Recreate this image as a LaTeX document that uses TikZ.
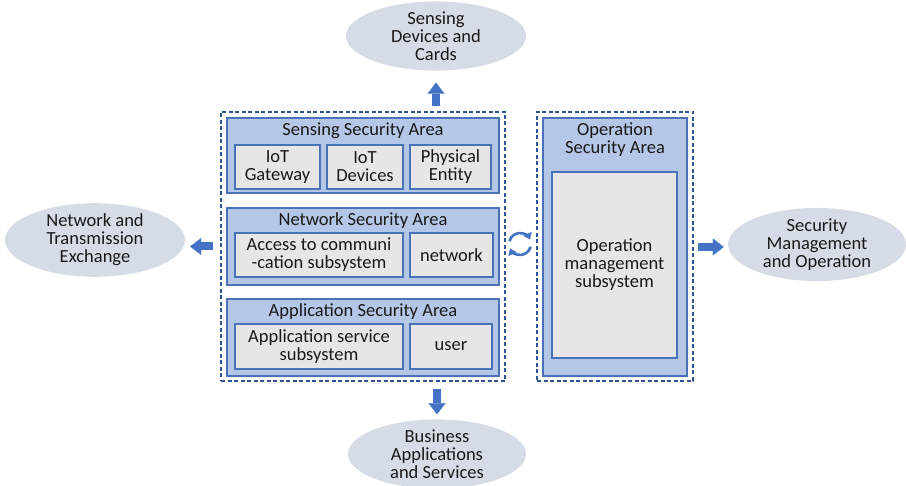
\documentclass[tikz,border=0pt]{standalone}
\usepackage{fontspec}
\setmainfont{Carlito}
\usetikzlibrary{arrows.meta,positioning,shapes.geometric}
\definecolor{areablue}{HTML}{B4C7E7}
\definecolor{edgeblue}{HTML}{4A72B8}
\definecolor{subgray}{HTML}{E7E6E6}
\definecolor{ovalgray}{HTML}{D6DCE5}
\definecolor{arrowblue}{HTML}{4472C4}
\definecolor{dashblue}{HTML}{2F5597}
\tikzset{
    every node/.style = {font=\fontsize{18.5}{18}\selectfont, text=black!90},
    outer-box/.style = {draw=dashblue, line width=1.2pt, dash pattern=on 4pt off 2.5pt, rectangle, inner sep=0pt},
    area-box/.style = {draw=edgeblue, fill=areablue, line width=1.3pt, rectangle, inner sep=0pt},
    sub-box/.style = {draw=edgeblue, fill=subgray, line width=1.3pt, rectangle, align=center, inner sep=0pt},
    area-title/.style = {align=center, inner sep=0pt},
    oval/.style = {ellipse, fill=ovalgray, align=center, inner sep=0pt},
    block-arrow/.style = {draw=arrowblue, line width=8pt, -{Triangle[length=11pt, width=17pt, line width=0.1pt]}},
    cycle-arrow/.style = {draw=arrowblue, line width=2.6pt, -{Triangle[length=6pt, width=9pt, line width=0.1pt]}},
}

\begin{document}
\begin{tikzpicture}[x=1pt, y=-1pt]
\useasboundingbox (0,0) rectangle (906,486);

% dashed groups
\node[outer-box, minimum width=284pt, minimum height=269pt] (outer-left) at (363,246.5) {};
\node[outer-box, minimum width=156pt, minimum height=269pt] (outer-right) at (615,246.5) {};

% sensing
\node[area-box, minimum width=272pt, minimum height=75pt] (sense-area) at (363,155.5) {};
\node[area-title] (sense-title) at (363,131) {Sensing Security Area};
\node[sub-box, minimum width=85pt, minimum height=44pt] (gateway) at (277.5,167) {IoT\\Gateway};
\node[sub-box, minimum width=76pt, minimum height=44pt] (devices) at (365,167) {IoT\\Devices};
\node[sub-box, minimum width=81pt, minimum height=44pt] (entity) at (450.5,167) {Physical\\Entity};

% network
\node[area-box, minimum width=272pt, minimum height=77pt] (net-area) at (363,246.5) {};
\node[area-title] (net-title) at (363,221) {Network Security Area};
\node[sub-box, minimum width=168pt, minimum height=44pt] (access) at (319,255) {Access to communi\\-cation subsystem};
\node[sub-box, minimum width=83pt, minimum height=44pt] (network) at (451.5,255) {network};

% application
\node[area-box, minimum width=272pt, minimum height=77pt] (app-area) at (363,337.5) {};
\node[area-title] (app-title) at (363,312) {Application Security Area};
\node[sub-box, minimum width=168pt, minimum height=45pt] (service) at (319,346.5) {Application service\\subsystem};
\node[sub-box, minimum width=82pt, minimum height=45pt] (user) at (451,346.5) {user};

% operation
\node[area-box, minimum width=144pt, minimum height=258pt] (op-area) at (615,247) {};
\node[area-title] (op-title) at (615,140) {Operation\\Security Area};
\node[sub-box, minimum width=125pt, minimum height=186pt] (op-sub) at (614.5,265) {Operation\\management\\subsystem};

% outside ovals
\node[oval, minimum width=180pt, minimum height=64pt] (sense-oval) at (436,36) {Sensing\\Devices and\\Cards};
\node[oval, minimum width=180pt, minimum height=66pt] (net-oval) at (95,240) {Network and\\Transmission\\Exchange};
\node[oval, minimum width=178pt, minimum height=67pt] (mgmt-oval) at (817,244.5) {Security\\Management\\and Operation};
\node[oval, minimum width=178pt, minimum height=68pt] (biz-oval) at (437,454) {Business\\Applications\\and Services};

% block arrows
\draw[block-arrow, shorten <=5pt, shorten >=12pt] (sense-oval.south |- outer-left.north) -- (sense-oval.south);
\draw[block-arrow, shorten <=7pt, shorten >=5pt] (outer-left.west |- net-area.center) -- (net-oval.east |- net-area.center);
\draw[block-arrow, shorten <=4pt, shorten >=4pt] (outer-right.east |- op-area.center) -- (mgmt-oval.west |- op-area.center);
\draw[block-arrow, shorten <=7pt, shorten >=5pt] (biz-oval.north |- outer-left.south) -- (biz-oval.north);

% exchange symbol
\coordinate (swap) at (520,244);
\draw[cycle-arrow] (swap) ++(-165:11) arc[start angle=-165, end angle=-25, radius=11];
\draw[cycle-arrow] (swap) ++(15:11) arc[start angle=15, end angle=155, radius=11];
\end{tikzpicture}
\end{document}
